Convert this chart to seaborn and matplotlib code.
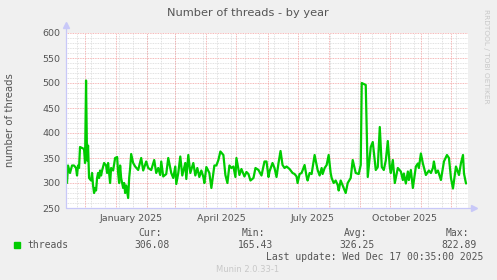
import numpy as np
import pandas as pd
import matplotlib
matplotlib.use("Agg")
import matplotlib.pyplot as plt
import matplotlib.dates as mdates
import seaborn as sns

# ---- data (day offsets from 2025-01-01, thread counts) ----
day_offset = [-49, -48, -46, -44, -42, -40, -39, -38, -37, -36, -34, -32, -31, -30, -29, -28,
              -27, -25, -24, -23, -22, -21, -20, -19, -18, -17, -16, -15, -14, -12, -10, -9,
              -8, -6, -5, -3, -1, 1, 2, 3, 4, 5, 7, 8, 9, 10, 12, 13, 14, 15, 17, 19, 22, 25,
              27, 30, 32, 35, 38, 40, 42, 44, 45, 47, 50, 52, 55, 57, 59, 60, 62, 64, 66, 69,
              70, 72, 74, 77, 79, 81, 83, 85, 87, 88, 90, 93, 95, 98, 100, 102, 104, 107,
              109, 111, 113, 115, 117, 119, 120, 123, 125, 128, 130, 132, 134, 137, 139, 142,
              145, 148, 150, 152, 153, 156, 158, 160, 162, 164, 166, 168, 170, 173, 176, 178,
              180, 181, 183, 185, 188, 190, 191, 193, 195, 198, 201, 203, 205, 206, 208, 210,
              212, 214, 215, 217, 219, 221, 222, 224, 226, 229, 231, 234, 236, 239, 242, 244,
              245, 247, 249, 251, 253, 254, 256, 259, 261, 263, 265, 267, 269, 271, 273, 274,
              276, 278, 279, 281, 284, 286, 287, 289, 291, 292, 294, 296, 299, 301, 302, 304,
              306, 309, 312, 314, 316, 317, 319, 321, 324, 327, 330, 332, 334, 336, 339, 342,
              344, 346, 347, 349]
threads = [300, 335, 320, 335, 335, 330, 315, 335, 330, 372, 370, 368, 340, 505, 345, 375,
           310, 305, 320, 295, 280, 290, 285, 310, 320, 310, 325, 315, 325, 340, 335, 320,
           340, 300, 330, 325, 350, 352, 320, 300, 335, 310, 290, 300, 280, 295, 270, 310,
           330, 358, 340, 333, 326, 350, 325, 343, 330, 326, 346, 320, 330, 316, 343, 313,
           318, 350, 320, 310, 333, 298, 320, 353, 315, 340, 308, 356, 320, 340, 315, 330,
           312, 325, 312, 300, 332, 320, 290, 335, 335, 346, 363, 356, 316, 300, 335, 330,
           333, 312, 350, 316, 328, 313, 322, 318, 305, 310, 330, 326, 315, 343, 343, 312,
           323, 340, 330, 312, 340, 364, 336, 330, 333, 328, 320, 318, 313, 300, 318, 320,
           336, 313, 305, 320, 318, 356, 326, 315, 330, 318, 330, 336, 356, 320, 310, 300,
           305, 296, 285, 305, 295, 280, 300, 310, 346, 320, 318, 336, 500, 498, 496, 312,
           352, 372, 382, 326, 332, 412, 332, 326, 345, 384, 332, 320, 346, 300, 310, 330,
           323, 306, 319, 299, 323, 306, 326, 290, 333, 339, 330, 359, 339, 316, 325, 320,
           330, 343, 320, 325, 306, 343, 356, 350, 310, 289, 333, 316, 340, 356, 319, 299,
           306]
y_ticks = [250, 300, 350, 400, 450, 500, 550, 600]
x_labels = ["January 2025", "April 2025", "July 2025", "October 2025"]
label_dates = ["2025-01-16", "2025-04-16", "2025-07-16", "2025-10-16"]
legend_name = "threads"
stat_names = ["Cur:", "Min:", "Avg:", "Max:"]
stat_values = ["306.08", "165.43", "326.25", "822.89"]

n = min(len(day_offset), len(threads))
base = pd.Timestamp("2025-01-01")
df = pd.DataFrame({"date": [base + pd.Timedelta(days=d) for d in day_offset[:n]],
                   "threads": threads[:n]})

sns.set_style("white")
plt.rcParams["font.family"] = ["DejaVu Sans"]

W, H = 497, 280
fig = plt.figure(figsize=(W / 100, H / 100), dpi=100, facecolor="#F0F0F0")
ax = fig.add_axes([66 / W, 1 - 208 / H, (468 - 66) / W, 175 / H])
ax.set_facecolor("white")

x0 = pd.Timestamp("2024-11-12")
x1 = pd.Timestamp("2025-12-18")
ax.set_xlim(x0, x1)
ax.set_ylim(250, 600)

grid_minor = "#D8D8D8"
grid_major = "#F2A0A0"
dot = (0, (1, 1))
# horizontal grid
for v in range(250, 601, 10):
    if v % 50:
        ax.axhline(v, color=grid_minor, lw=0.6, ls=dot, zorder=0)
for v in y_ticks:
    ax.axhline(v, color=grid_major, lw=0.6, ls=dot, zorder=0.5)
# vertical grid
minor_days = pd.date_range("2024-11-23", x1, freq="14D")
month_starts = pd.date_range("2024-12-01", x1, freq="MS")
for d in minor_days:
    ax.axvline(d, color=grid_minor, lw=0.6, ls=dot, zorder=0)
for d in month_starts:
    ax.axvline(d, color=grid_major, lw=0.6, ls=dot, zorder=0.5)

sns.lineplot(data=df, x="date", y="threads", ax=ax, color="#00CC00", lw=1.6, zorder=3)

# axes / ticks
txt = "#555555"
ax.set_yticks(y_ticks)
ax.set_yticklabels([str(v) for v in y_ticks], fontsize=6.8, color=txt)
ax.set_xticks([pd.Timestamp(d) for d in label_dates])
ax.set_xticklabels(x_labels, fontsize=6.8, color=txt)
ax.tick_params(axis="x", length=0, pad=4)
ax.tick_params(axis="y", length=2, width=0.6, color="#C8C8F0", pad=2)
ax.set_xticks(month_starts, minor=True)
ax.tick_params(axis="x", which="minor", length=2, width=0.6, color="#C8C8F0")
ax.set_xlabel("")
ax.set_ylabel("")
for s in ax.spines.values():
    s.set_visible(False)

axis_col = "#C8C8F8"
ax.plot([0, 0], [0, 1.04], transform=ax.transAxes, color=axis_col, lw=0.9, clip_on=False, zorder=4)
ax.plot([0, 1.012], [0, 0], transform=ax.transAxes, color=axis_col, lw=0.9, clip_on=False, zorder=4)
ax.plot([0], [1.045], marker="^", ms=4, color=axis_col, transform=ax.transAxes, clip_on=False)
ax.plot([1.014], [0], marker=">", ms=4, color=axis_col, transform=ax.transAxes, clip_on=False)

def ftext(x, y, s, **kw):
    fig.text(x / W, 1 - y / H, s, **kw)

ftext(248, 13, "Number of threads - by year", ha="center", va="center", fontsize=8.2, color=txt)
ftext(10, 120, "number of threads", ha="center", va="center", rotation=90, fontsize=7.3, color=txt)
ftext(486, 56, "RRDTOOL / TOBI OETIKER", ha="center", va="center", rotation=270,
      fontsize=5.3, color="#C8C8C8")

mono = "DejaVu Sans Mono"
fig.patches.append(plt.Rectangle((14 / W, 1 - 248 / H), 6 / W, 6 / H,
                                 transform=fig.transFigure, color="#00CC00"))
ftext(27, 245, legend_name, ha="left", va="center", fontsize=7, color=txt, family=mono)
hdr_x = [162, 265, 367, 469]
val_x = [170, 273, 375, 477]
for hx, vx, nm, vl in zip(hdr_x, val_x, stat_names, stat_values):
    ftext(hx, 233, nm, ha="right", va="center", fontsize=7, color=txt, family=mono)
    ftext(vx, 245, vl, ha="right", va="center", fontsize=7, color=txt, family=mono)
ftext(483, 257, "Last update: Wed Dec 17 00:35:00 2025", ha="right", va="center",
      fontsize=7, color=txt, family=mono)
ftext(248, 269, "Munin 2.0.33-1", ha="center", va="center", fontsize=6, color="#C8C8C8")

fig.savefig("out.png", dpi=100, facecolor=fig.get_facecolor())
